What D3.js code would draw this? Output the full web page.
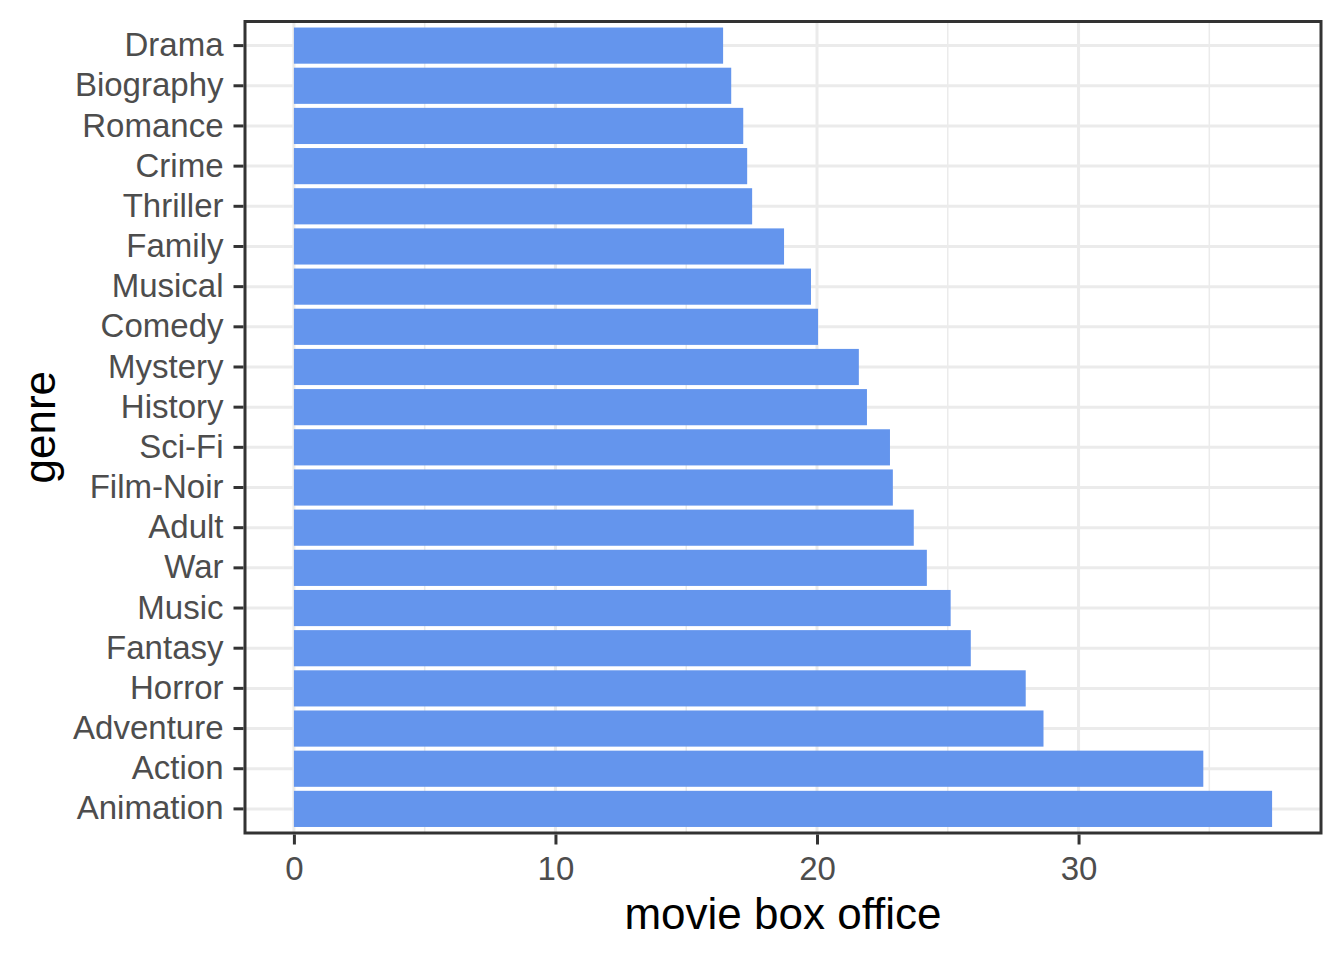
<!DOCTYPE html>
<html>
<head>
<meta charset="utf-8">
<script src="https://cdn.jsdelivr.net/npm/d3@7"></script>
<style>
  body { margin: 0; background: #fff; }
  text { font-family: "Liberation Sans", Arial, sans-serif; }
</style>
</head>
<body>
<svg id="chart" width="1344" height="960"></svg>
<script>
// genres, top to bottom
const genres = ["Drama", "Biography", "Romance", "Crime", "Thriller", "Family", "Musical",
  "Comedy", "Mystery", "History", "Sci-Fi", "Film-Noir", "Adult", "War", "Music",
  "Fantasy", "Horror", "Adventure", "Action", "Animation"];
const boxOffice = [16.41, 16.72, 17.18, 17.33, 17.52, 18.74, 19.77, 20.04, 21.60, 21.91,
  22.79, 22.90, 23.70, 24.20, 25.11, 25.88, 27.98, 28.66, 34.77, 37.40];
const xMajor = [0, 10, 20, 30];
const xMinor = [5, 15, 25, 35];

const panel = { left: 245, right: 1321, top: 21.5, bottom: 833 };
const svg = d3.select("#chart");

const maxVal = d3.max(boxOffice);
const x = d3.scaleLinear()
  .domain([-0.05 * maxVal, maxVal * 1.05])
  .range([panel.left, panel.right]);

const y = d3.scaleBand()
  .domain(genres)
  .range([panel.top, panel.bottom])
  .paddingInner(0.1)
  .paddingOuter(0.15);

const grid = svg.append("g");
// minor vertical grid
grid.selectAll(".minor").data(xMinor).join("line")
  .attr("x1", d => x(d)).attr("x2", d => x(d))
  .attr("y1", panel.top).attr("y2", panel.bottom)
  .attr("stroke", "#ebebeb").attr("stroke-width", 1.5);
// major vertical grid
grid.selectAll(".major").data(xMajor).join("line")
  .attr("x1", d => x(d)).attr("x2", d => x(d))
  .attr("y1", panel.top).attr("y2", panel.bottom)
  .attr("stroke", "#ebebeb").attr("stroke-width", 3);
// horizontal grid
grid.selectAll(".hgrid").data(genres).join("line")
  .attr("x1", panel.left).attr("x2", panel.right)
  .attr("y1", d => y(d) + y.bandwidth() / 2).attr("y2", d => y(d) + y.bandwidth() / 2)
  .attr("stroke", "#ebebeb").attr("stroke-width", 3);

// bars
svg.append("g").selectAll("rect").data(genres).join("rect")
  .attr("x", x(0))
  .attr("y", d => y(d))
  .attr("width", (d, i) => x(boxOffice[i]) - x(0))
  .attr("height", y.bandwidth())
  .attr("fill", "#6495ed");

// panel border
svg.append("rect")
  .attr("x", panel.left).attr("y", panel.top)
  .attr("width", panel.right - panel.left).attr("height", panel.bottom - panel.top)
  .attr("fill", "none").attr("stroke", "#333").attr("stroke-width", 3);

// x axis
const xAxis = svg.append("g")
  .attr("transform", `translate(0,${panel.bottom + 1.5})`)
  .call(d3.axisBottom(x).tickValues(xMajor).tickSize(10).tickPadding(12).tickFormat(d3.format("d")));
xAxis.select(".domain").remove();
xAxis.selectAll(".tick line").attr("stroke", "#333").attr("stroke-width", 3);
xAxis.selectAll(".tick text").attr("fill", "#4d4d4d").style("font-size", "33px");

// y axis
const yAxis = svg.append("g")
  .attr("transform", `translate(${panel.left - 1.5},0)`)
  .call(d3.axisLeft(y).tickSize(10).tickPadding(10));
yAxis.select(".domain").remove();
yAxis.selectAll(".tick line").attr("stroke", "#333").attr("stroke-width", 3);
yAxis.selectAll(".tick text").attr("fill", "#4d4d4d").style("font-size", "33px");

// axis titles
svg.append("text")
  .attr("x", (panel.left + panel.right) / 2)
  .attr("y", 929)
  .attr("text-anchor", "middle")
  .style("font-size", "44px")
  .attr("fill", "#000")
  .text("movie box office");

svg.append("text")
  .attr("transform", `translate(55,${(panel.top + panel.bottom) / 2}) rotate(-90)`)
  .attr("text-anchor", "middle")
  .style("font-size", "44px")
  .attr("fill", "#000")
  .text("genre");
</script>
</body>
</html>
